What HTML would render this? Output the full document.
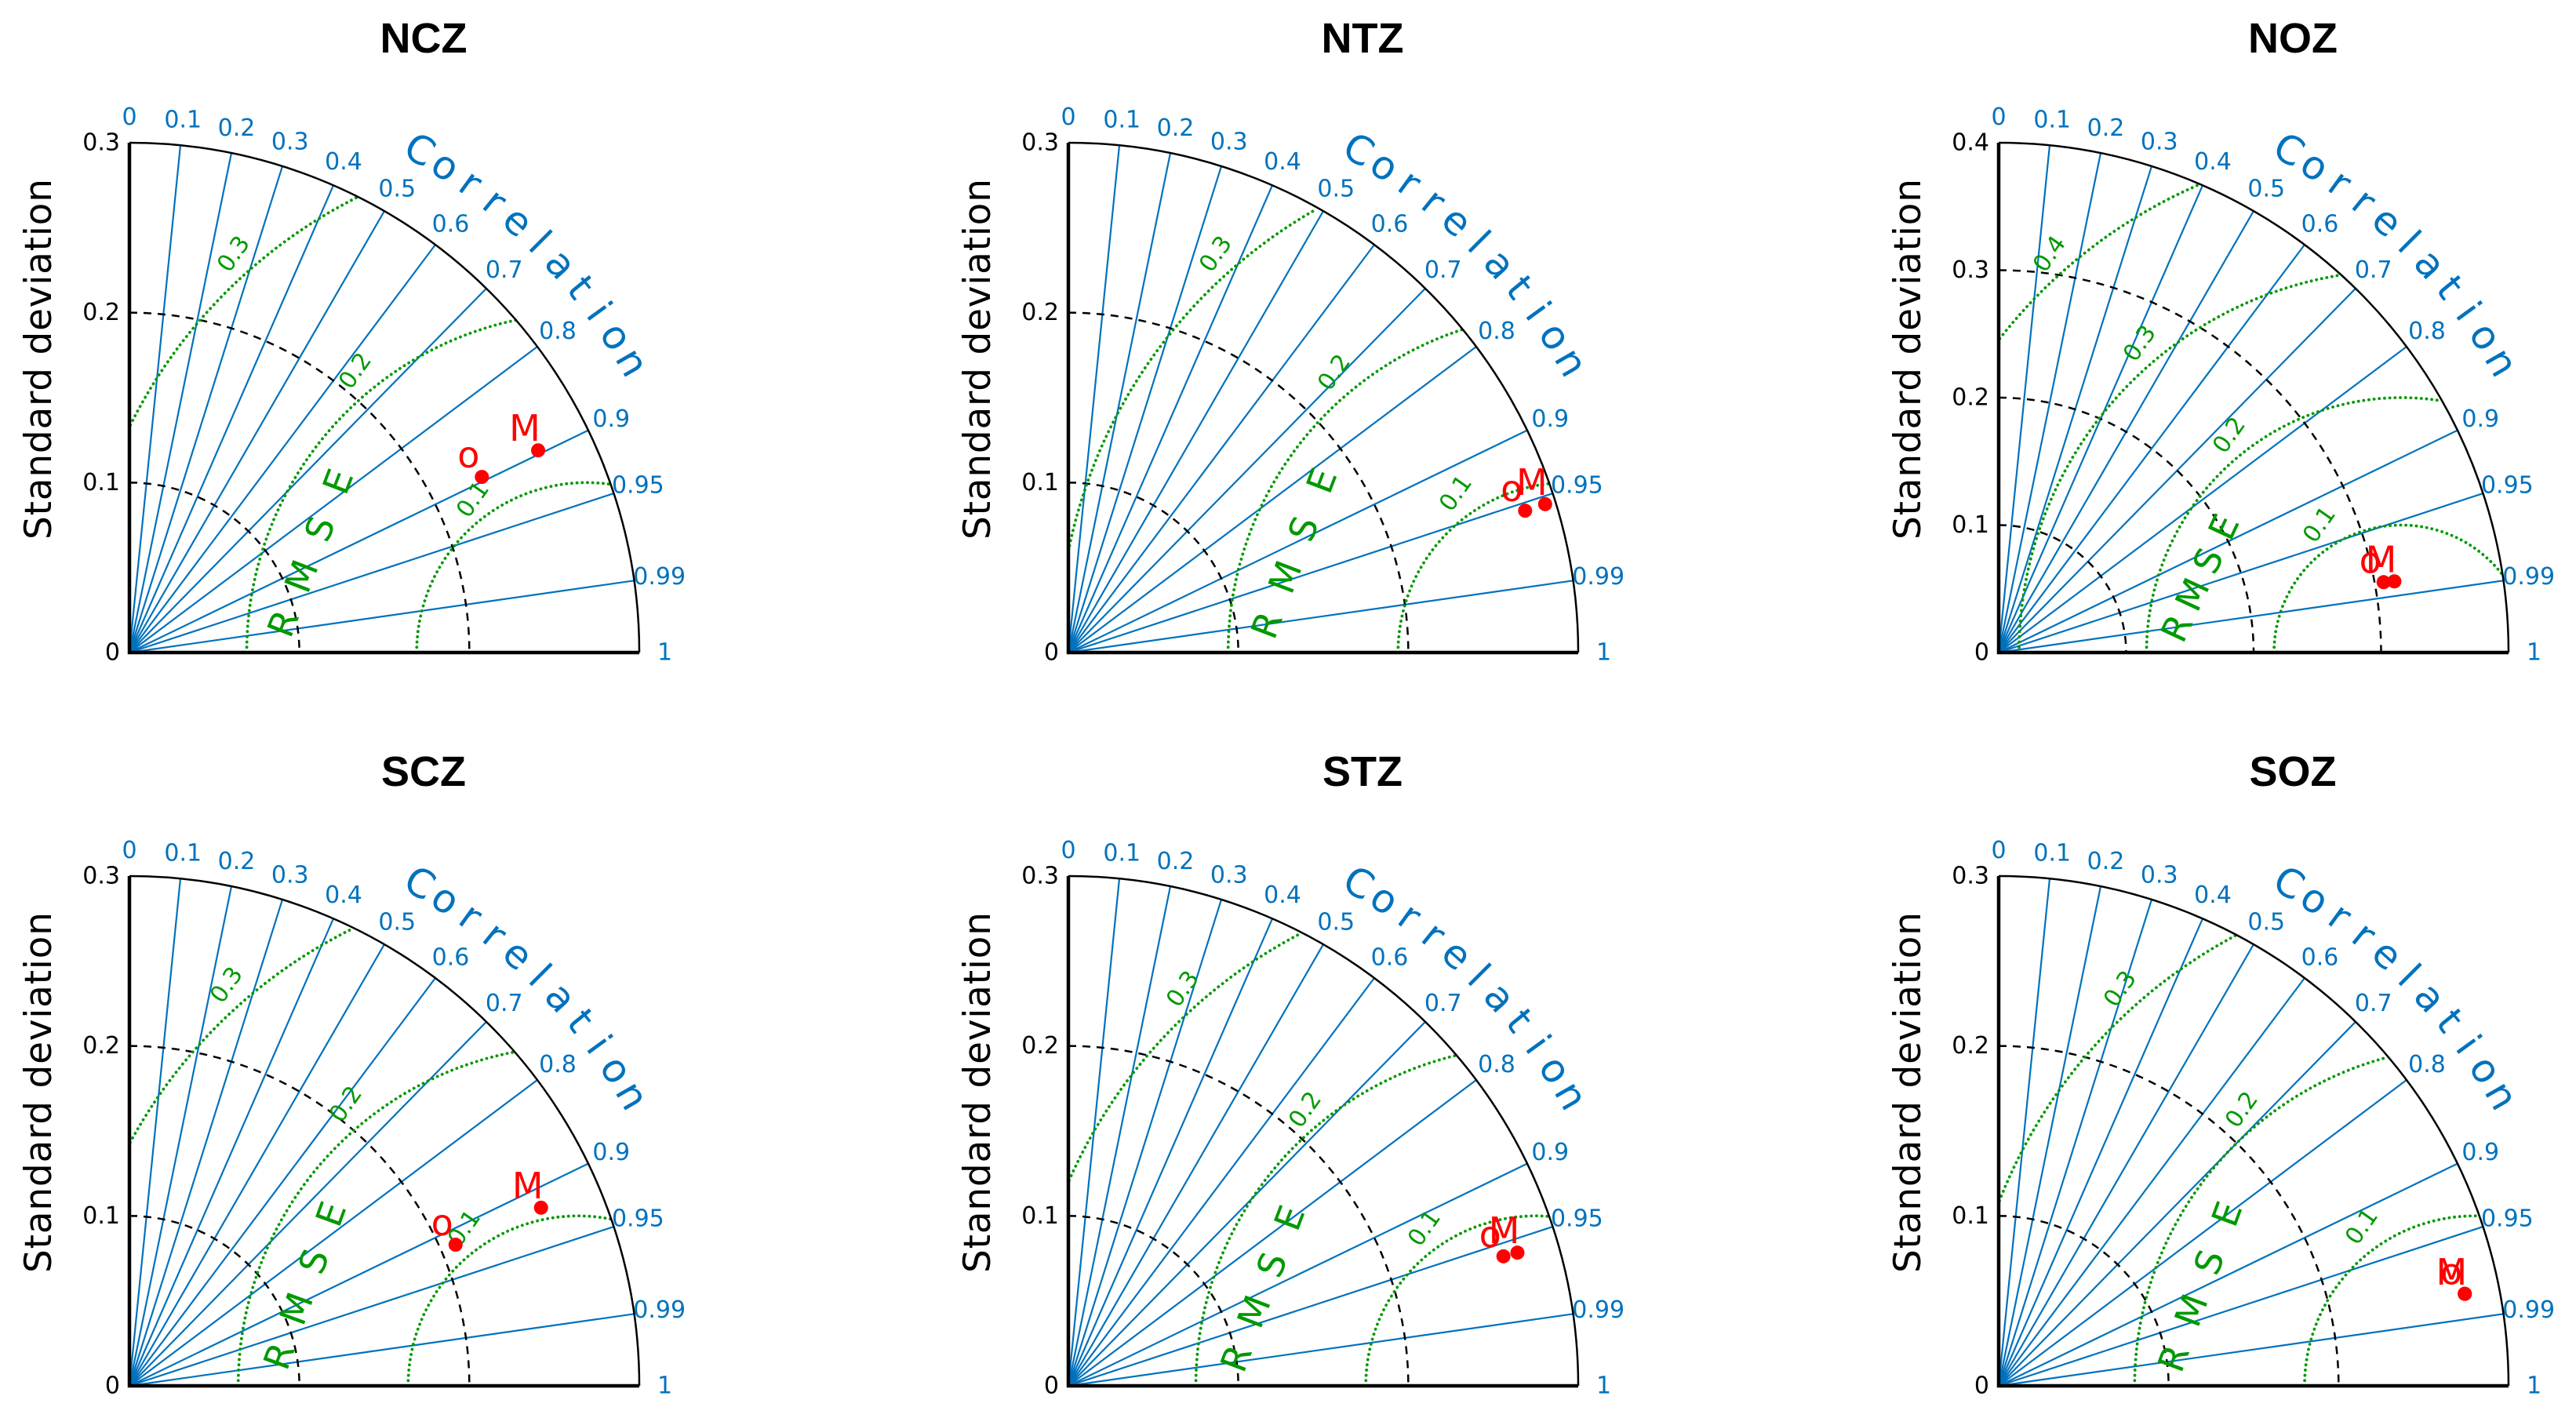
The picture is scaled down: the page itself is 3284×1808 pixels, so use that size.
<!DOCTYPE html>
<html><head><meta charset="utf-8">
<style>
html,body{margin:0;padding:0;background:#fff;}
svg{display:block;}
</style></head>
<body>
<svg id="chart" width="3284" height="1808" viewBox="0 0 3284 1808" xmlns="http://www.w3.org/2000/svg">
<rect width="3284" height="1808" fill="#fff"/>
</svg>
<script>
const panelNames = ["NCZ","NTZ","NOZ","SCZ","STZ","SOZ"];
const stdMax = [0.3,0.3,0.4,0.3,0.3,0.3];
const stdTicks = [[0,0.1,0.2,0.3],[0,0.1,0.2,0.3],[0,0.1,0.2,0.3,0.4],[0,0.1,0.2,0.3],[0,0.1,0.2,0.3],[0,0.1,0.2,0.3]];
const stdTickLabels = [["0","0.1","0.2","0.3"],["0","0.1","0.2","0.3"],["0","0.1","0.2","0.3","0.4"],["0","0.1","0.2","0.3"],["0","0.1","0.2","0.3"],["0","0.1","0.2","0.3"]];
const corrTicks = [0,0.1,0.2,0.3,0.4,0.5,0.6,0.7,0.8,0.9,0.95,0.99,1];
const corrTickLabels = ["0","0.1","0.2","0.3","0.4","0.5","0.6","0.7","0.8","0.9","0.95","0.99","1"];
const refStd = [0.269,0.294,0.316,0.264,0.275,0.280];
const rmseLevels = [[0.1,0.2,0.3],[0.1,0.2,0.3],[0.1,0.2,0.3,0.4],[0.1,0.2,0.3],[0.1,0.2,0.3],[0.1,0.2,0.3]];
const rmseLevelLabels = [["0.1","0.2","0.3"],["0.1","0.2","0.3"],["0.1","0.2","0.3","0.4"],["0.1","0.2","0.3"],["0.1","0.2","0.3"],["0.1","0.2","0.3"]];
const obsStd  = [0.2317,0.2814,0.3070,0.2091,0.2671,0.2795];
const obsCorr = [0.895,0.955,0.9837,0.9177,0.9584,0.9810];
const modStd  = [0.2683,0.2938,0.3154,0.2639,0.2756,0.2796];
const modCorr = [0.8963,0.9548,0.9842,0.9177,0.9587,0.9811];

// layout (not data)
const NS = "http://www.w3.org/2000/svg";
const svg = document.getElementById("chart");
const ORIG = [[165,832],[1362,832],[2548,832],[165,1767],[1362,1767],[2548,1767]];
const R = 650;
const BLUE = "#0072BD", GREEN = "#009900";
const FONT = "'DejaVu Sans','Liberation Sans',sans-serif";
const RMSE_POS = [[[196,-37],[266,-218]],[[253,-35],[323,-219]],[[227,-31],[287,-160]],[[191,-38],[257,-219]],[[214,-35],[282,-214]],[[223,-35],[291,-219]]];
// label offsets ordered by level (0.1, 0.2, 0.3, 0.4)
const RMSE_LAB = [[[438,-195],[288,-359],[133,-508]],[[494,-203],[339,-357],[188,-508]],[[409,-163],[294,-277],[180,-394],[65,-508]],[[427,-201],[276,-359],[124,-511]],[[454,-201],[302,-352],[146,-506]],[[463,-203],[310,-352],[155,-506]]];

function el(tag, attrs, parent){
  const e = document.createElementNS(NS, tag);
  for (const k in attrs) e.setAttribute(k, attrs[k]);
  (parent||svg).appendChild(e);
  return e;
}

panelNames.forEach((name, p) => {
  const [ox, oy] = ORIG[p];
  const mx = stdMax[p];
  const sc = R / mx;
  const X = (s, c) => ox + s * c * sc;
  const Y = (s, c) => oy - s * Math.sqrt(Math.max(0, 1 - c*c)) * sc;
  const g = el("g", {});
  
  

  const t = el("text", {x: ox+375, y: oy-765, "text-anchor":"middle", "font-family":"'Liberation Sans',sans-serif", "font-weight":"bold", "font-size":54, fill:"#000"}, g);
  t.textContent = name;
  
  

  const yl = el("text", {x: 0, y: 0, transform:`translate(${ox-100},${oy-374}) rotate(-90)`, "text-anchor":"middle", "font-family":FONT, "font-size":47, fill:"#000", textLength:460}, g);
  yl.textContent = "Standard deviation";
  
  

  corrTicks.forEach((c, i) => {
    if (c === 0 || c === 1) return;
    const ln = el("line", {x1: ox, y1: oy, x2: X(mx, c), y2: Y(mx, c), stroke: BLUE, "stroke-width": 2.2}, g);
    
    
  });
  corrTicks.forEach((c, i) => {
    const tl = el("text", {x: X(mx*1.05, c), y: Y(mx*1.05, c), "text-anchor":"middle", "dominant-baseline":"central", "font-family":FONT, "font-size":30, fill:BLUE}, g);
    tl.textContent = corrTickLabels[i];
    
    
  });

  stdTicks[p].forEach((s) => {
    if (s === 0 || s >= mx - 1e-9) return;
    const r = s * sc;
    const a = el("path", {d:`M ${ox} ${oy-r} A ${r} ${r} 0 0 1 ${ox+r} ${oy}`, fill:"none", stroke:"#000", "stroke-width":2.5, "stroke-dasharray":"10 8"}, g);
    
    
  });

  rmseLevels[p].forEach((lv, i) => {
    let d = "";
    let pen = false;
    for (let k = 0; k <= 720; k++) {
      const th = Math.PI * k / 720;
      const x = refStd[p] - lv * Math.cos(th);
      const y = lv * Math.sin(th);
      const ok = x >= 0 && Math.hypot(x, y) <= mx;
      if (ok) {
        d += (pen ? " L " : " M ") + (ox + x*sc).toFixed(1) + " " + (oy - y*sc).toFixed(1);
        pen = true;
      } else pen = false;
    }
    const c = el("path", {d: d, fill:"none", stroke:GREEN, "stroke-width":3.8, "stroke-linecap":"round", "stroke-dasharray":"0.1 6.6"}, g);
    
    
    const lp = RMSE_LAB[p][i];
    const lt = el("text", {x:0, y:0, transform:`translate(${ox+lp[0]},${oy+lp[1]}) rotate(-55)`, "text-anchor":"middle", "dominant-baseline":"central", "font-family":FONT, "font-size":30, fill:GREEN}, g);
    lt.textContent = rmseLevelLabels[p][i];
    
    
  });

  const [rs, re] = RMSE_POS[p];
  const ang = Math.atan2(re[1]-rs[1], re[0]-rs[0]) * 180 / Math.PI;
  "RMSE".split("").forEach((ch, i) => {
    const f = i / 3;
    const lx = ox + rs[0] + (re[0]-rs[0]) * f, ly = oy + rs[1] + (re[1]-rs[1]) * f;
    const lt = el("text", {x:0, y:0, transform:`translate(${lx},${ly}) rotate(${ang})`, "text-anchor":"middle", "dominant-baseline":"central", "font-family":FONT, "font-size":46, fill:GREEN}, g);
    lt.textContent = ch;
    
    
  });

  "Correlation".split("").forEach((ch, i) => {
    const th = (60 - i * 3) * Math.PI / 180;
    const lx = ox + 740 * Math.cos(th), ly = oy - 740 * Math.sin(th);
    const lt = el("text", {x:0, y:0, transform:`translate(${lx.toFixed(1)},${ly.toFixed(1)}) rotate(${(90 - (60 - i*3)).toFixed(1)})`, "text-anchor":"middle", "dominant-baseline":"central", "font-family":FONT, "font-size":50, fill:BLUE}, g);
    lt.textContent = ch;
    
    
  });

  const oa = el("path", {d:`M ${ox} ${oy-R} A ${R} ${R} 0 0 1 ${ox+R} ${oy}`, fill:"none", stroke:"#000", "stroke-width":2.5}, g);
  
  
  const ax = el("path", {d:`M ${ox} ${oy-R} L ${ox} ${oy} L ${ox+R} ${oy}`, fill:"none", stroke:"#000", "stroke-width":4.5}, g);
  
  

  stdTicks[p].forEach((s, i) => {
    const tl = el("text", {x: ox-12, y: oy - s*sc, "text-anchor":"end", "dominant-baseline":"central", "font-family":FONT, "font-size":30, fill:"#000"}, g);
    tl.textContent = stdTickLabels[p][i];
    
    
    if (s > 0 && s < mx - 1e-9) {
      const tk = el("line", {x1: ox, y1: oy - s*sc, x2: ox+10, y2: oy - s*sc, stroke:"#000", "stroke-width":2}, g);
      
      
    }
  });

  const pts = [["o", obsStd[p], obsCorr[p], "observed-point"], ["M", modStd[p], modCorr[p], "model-point"]];
  pts.forEach(([lab, s, c, nm]) => {
    const px = X(s, c), py = Y(s, c);
    const dot = el("circle", {cx: px, cy: py, r: 9, fill:"#ff0000"}, g);
    
    
    const lt = el("text", {x: px-17, y: py-12, "text-anchor":"middle", "font-family":FONT, "font-size":46, fill:"#ff0000"}, g);
    lt.textContent = lab;
    
    
  });
});
</script>
</body></html>
